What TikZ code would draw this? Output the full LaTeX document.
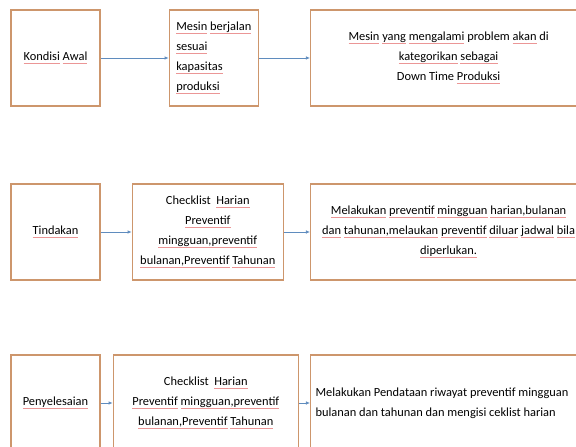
\documentclass[tikz,border=0pt]{standalone}
\usepackage{fontspec}
\setmainfont{Carlito}
\usetikzlibrary{positioning, arrows.meta}

\definecolor{boxline}{RGB}{205,150,108}
\definecolor{flowline}{RGB}{95,140,190}
\definecolor{splred}{RGB}{235,150,150}
% red marks under the words, as in the source
\newsavebox\splbox
\newcommand\spl[1]{\sbox\splbox{#1}\rlap{\textcolor{splred}{\rule[-2.8pt]{\wd\splbox}{0.45pt}}}\usebox\splbox}

\begin{document}
\begin{tikzpicture}[
    x=1pt, y=1pt,
    >={Latex[length=4pt,width=3.5pt]},
    every node/.style={font=\fontsize{12.4}{20}\selectfont},
    box/.style={
        draw=boxline,
        line width=1.3pt,
        minimum height=96pt,
        align=center,
        inner sep=2pt
    },
    flow/.style={->, draw=flowline, line width=0.7pt}
]
    \useasboundingbox (0,0) rectangle (576,447);

    % Kondisi awal
    \node[box, minimum width=89pt] (awal) at (55.5,389) {\spl{Kondisi} \spl{Awal}};
    \node[box, minimum width=89pt, align=left, right=68pt of awal] (jalan)
        {\spl{Mesin} \spl{berjalan}\\ \spl{sesuai}\\ \spl{kapasitas}\\ \spl{produksi}};
    \node[box, minimum width=276pt, right=51pt of jalan] (downtime)
        {\spl{Mesin} \spl{yang} \spl{mengalami} problem \spl{akan} di\\
         \spl{kategorikan} \spl{sebagai}\\ Down Time \spl{Produksi}};

    % Tindakan
    \node[box, minimum width=89pt] (tindakan) at (55.5,215) {\spl{Tindakan}};
    \node[box, minimum width=151pt, right=31pt of tindakan] (cek1)
        {Checklist\ \ \spl{Harian}\\ \spl{Preventif}\\ \spl{mingguan,preventif}\\
         \spl{bulanan,Preventif} \spl{Tahunan}};
    \node[box, minimum width=276pt, right=26pt of cek1] (preventif)
        {\spl{Melakukan} \spl{preventif} \spl{mingguan} \spl{harian,bulanan}\\
         \spl{dan} \spl{tahunan,melaukan} \spl{preventif} \spl{diluar} \spl{jadwal} \spl{bila}\\
         \spl{diperlukan.}};

    % Penyelesaian
    \node[box, minimum width=89pt] (selesai) at (55.5,44) {\spl{Penyelesaian}};
    \node[box, minimum width=185pt, right=12pt of selesai] (cek2)
        {Checklist\ \ \spl{Harian}\\ \spl{Preventif} \spl{mingguan,preventif}\\
         \spl{bulanan,Preventif} \spl{Tahunan}};
    \node[box, minimum width=276pt, text width=266pt, align=flush left, right=11pt of cek2] (pendataan)
        {Melakukan Pendataan riwayat preventif mingguan\\
         bulanan dan tahunan dan mengisi ceklist harian};

    % Arrows
    \draw[flow] (awal) -- (jalan);
    \draw[flow] (jalan) -- (downtime);
    \draw[flow] (tindakan) -- (cek1);
    \draw[flow] (cek1) -- (preventif);
    \draw[flow] (selesai) -- (cek2);
    \draw[flow] (cek2) -- (pendataan);

\end{tikzpicture}
\end{document}
